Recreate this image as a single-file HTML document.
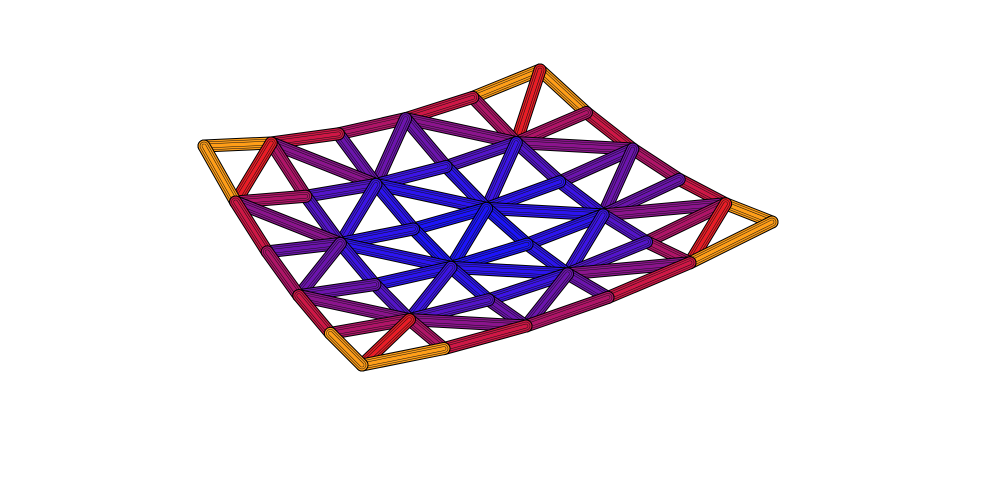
<!DOCTYPE html>
<html><head><meta charset="utf-8"><style>
html,body{margin:0;padding:0;background:#fff;width:1000px;height:500px;overflow:hidden}
svg{display:block}
</style></head><body>
<svg id="chart" width="1000" height="500" viewBox="0 0 1000 500" xmlns="http://www.w3.org/2000/svg">
<g id="mesh"></g>
</svg>
<script>
// node heights on a 6x6 grid (row j from front edge toward back-left edge, col i along front edge)
const heightRow0 = [1.0, 0.68, 0.52, 0.52, 0.68, 1.0];
const heightRow1 = [0.68, 0.36, 0.2, 0.2, 0.36, 0.68];
const heightRow2 = [0.52, 0.2, 0.04, 0.04, 0.2, 0.52];
const heightRow3 = [0.52, 0.2, 0.04, 0.04, 0.2, 0.52];
const heightRow4 = [0.68, 0.36, 0.2, 0.2, 0.36, 0.68];
const heightRow5 = [1.0, 0.68, 0.52, 0.52, 0.68, 1.0];
const heights = [heightRow0, heightRow1, heightRow2, heightRow3, heightRow4, heightRow5];

const N = 5;
const F = [362, 365], R = [772, 222], L = [204, 146], B = [540, 70];
const H = 38;
function planeXY(i, j) {
  const s = i / N, t = j / N;
  const x = (1-s)*(1-t)*F[0] + s*(1-t)*R[0] + (1-s)*t*L[0] + s*t*B[0];
  const y = (1-s)*(1-t)*F[1] + s*(1-t)*R[1] + (1-s)*t*L[1] + s*t*B[1] + H;
  return [x, y];
}
function proj(i, j) {
  const p = planeXY(i, j);
  return [p[0], p[1] - H * heights[j][i]];
}
const stops = [[0,[20,20,255]],[0.2,[60,20,230]],[0.4,[120,20,160]],[0.55,[190,20,90]],[0.7,[240,30,30]],[0.8,[255,130,20]],[0.9,[255,200,30]],[1,[245,235,40]]];
function color(z) {
  for (let k = 1; k < stops.length; k++) {
    if (z <= stops[k][0]) {
      const a = stops[k-1], b = stops[k];
      const f = (z - a[0]) / (b[0] - a[0]);
      const c = a[1].map((v, m) => Math.round(v + (b[1][m] - v) * f));
      return `rgb(${c[0]},${c[1]},${c[2]})`;
    }
  }
  return 'rgb(245,235,40)';
}
const edges = [];
for (let j = 0; j <= N; j++) for (let i = 0; i <= N; i++) {
  if (i < N) edges.push([i, j, i+1, j]);
  if (j < N) edges.push([i, j, i, j+1]);
  if (i < N && j < N) {
    if ((i + j) % 2 === 0) edges.push([i, j, i+1, j+1]);
    else edges.push([i+1, j, i, j+1]);
  }
}
edges.sort((a, b) => (b[0]+b[1]+b[2]+b[3]) - (a[0]+a[1]+a[2]+a[3]));
const g = document.getElementById('mesh');
const NS = 'http://www.w3.org/2000/svg';
edges.forEach((e) => {
  const p = proj(e[0], e[1]), q = proj(e[2], e[3]);
  const z = (heights[e[1]][e[0]] + heights[e[3]][e[2]]) / 2;
  const c = color(z);
  const grp = document.createElementNS(NS, 'g');
  
  
  [[13, '#000'], [11, c], [8.5, '#111'], [7.5, c], [4.5, '#111'], [3.5, c]].forEach(w => {
    const ln = document.createElementNS(NS, 'line');
    ln.setAttribute('x1', p[0]); ln.setAttribute('y1', p[1]);
    ln.setAttribute('x2', q[0]); ln.setAttribute('y2', q[1]);
    ln.setAttribute('stroke', w[1]); ln.setAttribute('stroke-width', w[0]);
    ln.setAttribute('stroke-linecap', 'round');
    grp.appendChild(ln);
  });
  g.appendChild(grp);
});
</script>
</body></html>
